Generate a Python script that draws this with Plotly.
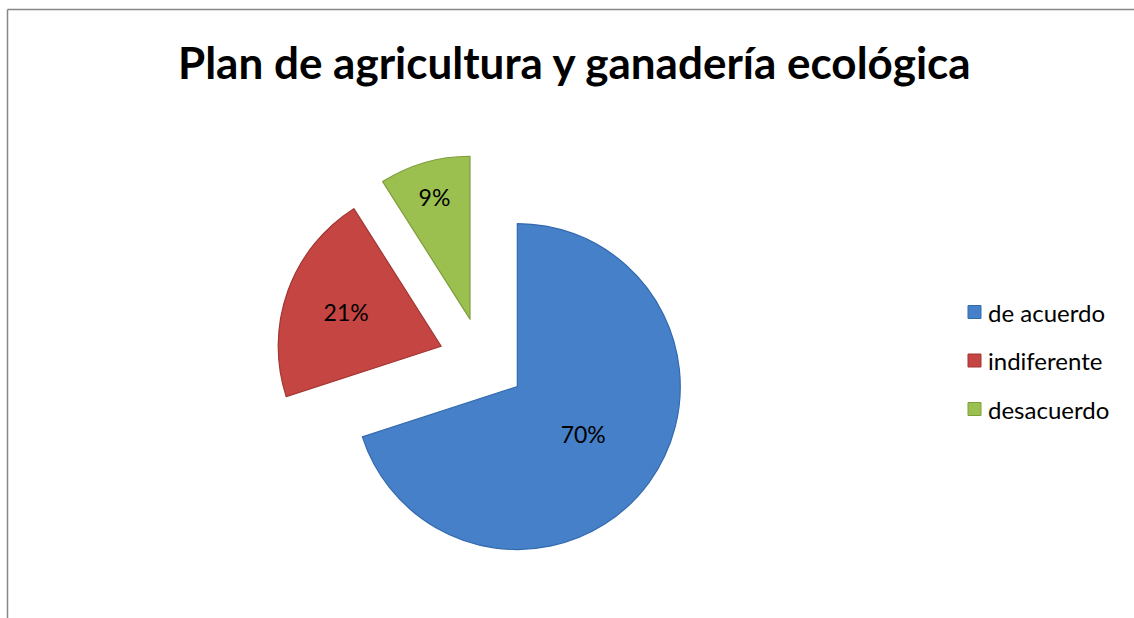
import plotly.graph_objects as go

title_text = "Plan de agricultura y ganadería ecológica"
labels = ["de acuerdo", "indiferente", "desacuerdo"]
values = [70, 21, 9]
colors = ["#4580C8", "#C54542", "#9CC04F"]
edge_colors = ["#336AAE", "#A23532", "#7E9E3C"]

W, H = 1134, 618
font_family = "Lato, 'Open Sans', sans-serif"

fig = go.Figure()
fig.add_trace(go.Pie(
    labels=labels,
    values=values,
    sort=False,
    direction="clockwise",
    rotation=0,
    pull=[0.267] * len(values),
    marker=dict(colors=colors, line=dict(color=edge_colors, width=1.2)),
    textinfo="percent",
    textposition="inside",
    insidetextorientation="horizontal",
    texttemplate="%{percent:.0%}",
    textfont=dict(family=font_family, size=23, color="black"),
    hoverinfo="label+percent",
    domain=dict(x=[0.2341, 0.6162], y=[0.0818, 0.7500]),
    showlegend=False,
))

shapes = [
    dict(type="line", xref="paper", yref="paper", x0=7.5 / W, x1=7.5 / W, y0=0, y1=1 - 9.5 / H,
         line=dict(color="#878787", width=1.5)),
    dict(type="line", xref="paper", yref="paper", x0=7.5 / W, x1=1, y0=1 - 9.5 / H, y1=1 - 9.5 / H,
         line=dict(color="#878787", width=1.5)),
]
annotations = []
leg_top = 312
leg_step = 48.5
for i, (lab, col, ec) in enumerate(zip(labels, colors, edge_colors)):
    yc = leg_top + i * leg_step
    shapes.append(dict(type="rect", xref="paper", yref="paper",
                       x0=968 / W, x1=981 / W, y0=1 - (yc + 6.5) / H, y1=1 - (yc - 6.5) / H,
                       fillcolor=col, line=dict(color=ec, width=1)))
    annotations.append(dict(text=lab, xref="paper", yref="paper", x=986 / W, y=1 - yc / H,
                            xanchor="left", yanchor="middle", showarrow=False,
                            font=dict(family=font_family, size=24, color="black")))

annotations.append(dict(text="<b>" + title_text + "</b>", xref="paper", yref="paper",
                        x=574 / W, y=1 - 62 / H, xanchor="center", yanchor="middle",
                        showarrow=False, font=dict(family=font_family, size=44, color="black")))

fig.update_layout(
    width=W, height=H,
    margin=dict(l=0, r=0, t=0, b=0),
    paper_bgcolor="white",
    plot_bgcolor="white",
    shapes=shapes,
    annotations=annotations,
)

fig.write_html("out.html")
